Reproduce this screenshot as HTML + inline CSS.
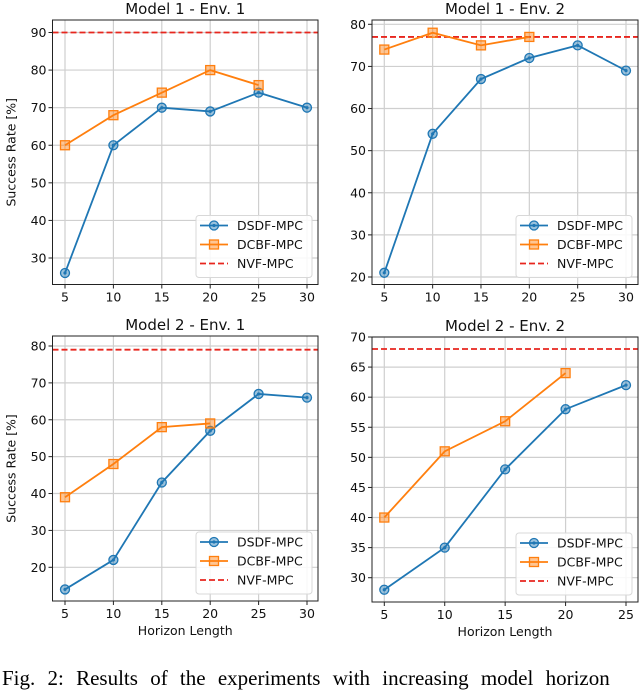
<!DOCTYPE html>
<html><head><meta charset="utf-8"><style>
body{margin:0;background:#fff;width:640px;height:676px;overflow:hidden;position:relative;font-family:"DejaVu Sans","Liberation Sans",sans-serif}
svg{position:absolute;left:0;top:0}
.cap{position:absolute;left:2px;top:666px;font-family:"Liberation Serif",serif;font-size:21px;white-space:nowrap;word-spacing:7px}
</style></head><body>
<svg id="chart" width="640" height="676" xmlns="http://www.w3.org/2000/svg"></svg>
<div class="cap">Fig. 2:  Results  of  the  experiments  with  increasing  model  horizon</div>
<script>
const titles = ["Model 1 - Env. 1","Model 1 - Env. 2","Model 2 - Env. 1","Model 2 - Env. 2"];
const xCats1 = [5,10,15,20,25,30];
const xCats2 = [5,10,15,20,25];
const dsdf1 = [26,60,70,69,74,70];
const dcbf1 = [60,68,74,80,76];
const nvf1 = 90;
const dsdf2 = [21,54,67,72,75,69];
const dcbf2 = [74,78,75,77];
const nvf2 = 77;
const dsdf3 = [14,22,43,57,67,66];
const dcbf3 = [39,48,58,59];
const nvf3 = 79;
const dsdf4 = [28,35,48,58,62];
const dcbf4 = [40,51,56,64];
const nvf4 = 68;
const yTicks1 = [30,40,50,60,70,80,90];
const yTicks2 = [20,30,40,50,60,70,80];
const yTicks3 = [20,30,40,50,60,70,80];
const yTicks4 = [30,35,40,45,50,55,60,65,70];

const NS="http://www.w3.org/2000/svg";
const svg=document.getElementById('chart');
function mk(tag,attrs,parent){const e=document.createElementNS(NS,tag);for(const k in attrs)e.setAttribute(k,attrs[k]);(parent||svg).appendChild(e);return e;}

const panels=[
 {t:titles[0],box:[52.5,20,318,284.5],xc:xCats1,xr:[5,65,30,307],yr:[90,32.5,30,258],ds:dsdf1,dc:dcbf1,nv:nvf1,yt:yTicks1,ylab:true,xlab:false},
 {t:titles[1],box:[372,20,638,284.5],xc:xCats1,xr:[5,384.3,30,626],yr:[80,24.3,20,277],ds:dsdf2,dc:dcbf2,nv:nvf2,yt:yTicks2,ylab:false,xlab:false},
 {t:titles[2],box:[52.5,336,318,601],xc:xCats1,xr:[5,65,30,307],yr:[80,346,20,567.3],ds:dsdf3,dc:dcbf3,nv:nvf3,yt:yTicks3,ylab:true,xlab:true},
 {t:titles[3],box:[372,337,638,602],xc:xCats2,xr:[5,384.3,25,626],yr:[70,337,30,577.7],ds:dsdf4,dc:dcbf4,nv:nvf4,yt:yTicks4,ylab:false,xlab:true}
];
const BLUE="#1f77b4",ORANGE="#ff7f0e",RED="#e8261e";
function circ(g,x,y){
 mk('circle',{cx:x,cy:y,r:4.5,fill:'rgba(31,119,180,0.45)',stroke:BLUE,'stroke-width':1.3},g);
 mk('circle',{cx:x,cy:y,r:1.6,fill:BLUE},g);
}
panels.forEach((p,i)=>{
 const [L,T,R,B]=p.box;
 const sx=v=>p.xr[1]+(v-p.xr[0])*(p.xr[3]-p.xr[1])/(p.xr[2]-p.xr[0]);
 const sy=v=>p.yr[1]+(v-p.yr[0])*(p.yr[3]-p.yr[1])/(p.yr[2]-p.yr[0]);
 const g=mk('g',{});
 
 
 const tt=mk('text',{x:(L+R)/2,y:T-6,'text-anchor':'middle','font-size':15,fill:'#111'},g);tt.textContent=p.t;
 
 
 p.xc.forEach(v=>{
  const x=sx(v);
  mk('line',{x1:x,x2:x,y1:T,y2:B,stroke:'#cfcfcf','stroke-width':1.2},g);
  mk('line',{x1:x,x2:x,y1:B,y2:B+4,stroke:'#222','stroke-width':1},g);
  const tx=mk('text',{x:x,y:B+17,'text-anchor':'middle','font-size':12.5,fill:'#111'},g);tx.textContent=v;
  
  
 });
 p.yt.forEach(v=>{
  const y=sy(v);
  mk('line',{x1:L,x2:R,y1:y,y2:y,stroke:'#cfcfcf','stroke-width':1.2},g);
  mk('line',{x1:L-4,x2:L,y1:y,y2:y,stroke:'#222','stroke-width':1},g);
  const ty=mk('text',{x:L-6,y:y+4.5,'text-anchor':'end','font-size':12.5,fill:'#111'},g);ty.textContent=v;
  
  
 });
 const nl=mk('line',{x1:L,x2:R,y1:sy(p.nv),y2:sy(p.nv),stroke:RED,'stroke-width':1.8,'stroke-dasharray':'6,3'},g);
 
 
 const dp=mk('polyline',{points:p.ds.map((v,j)=>sx(p.xc[j])+','+sy(v)).join(' '),fill:'none',stroke:BLUE,'stroke-width':1.8},g);
 
 
 const cp=mk('polyline',{points:p.dc.map((v,j)=>sx(p.xc[j])+','+sy(v)).join(' '),fill:'none',stroke:ORANGE,'stroke-width':1.8},g);
 
 
 p.ds.forEach((v,j)=>{circ(g,sx(p.xc[j]),sy(v));});
 p.dc.forEach((v,j)=>{
  const s=mk('rect',{x:sx(p.xc[j])-4.5,y:sy(v)-4.5,width:9,height:9,fill:'rgba(255,127,14,0.45)',stroke:ORANGE,'stroke-width':1.3},g);
  
  
 });
 mk('rect',{x:L,y:T,width:R-L,height:B-T,fill:'none',stroke:'#222','stroke-width':1},g);
 const lx=R-122,ly=B-69;
 const lg=mk('g',{},g);
 
 
 mk('rect',{x:lx,y:ly,width:116,height:62,rx:3,fill:'rgba(255,255,255,0.85)',stroke:'#d8d8d8'},lg);
 const ent=[['DSDF-MPC',BLUE,'c'],['DCBF-MPC',ORANGE,'s'],['NVF-MPC',RED,'d']];
 ent.forEach((e,k)=>{
  const y=ly+10+k*19;
  mk('line',{x1:lx+4,x2:lx+32,y1:y,y2:y,stroke:e[1],'stroke-width':1.8,'stroke-dasharray':e[2]=='d'?'6,3':'none'},lg);
  if(e[2]=='c')circ(lg,lx+18,y);
  if(e[2]=='s')mk('rect',{x:lx+13.5,y:y-4.5,width:9,height:9,fill:'rgba(255,127,14,0.45)',stroke:ORANGE,'stroke-width':1.3},lg);
  const t=mk('text',{x:lx+41,y:y+4.5,'font-size':12.5,fill:'#111'},lg);t.textContent=e[0];
  
  
 });
 if(p.ylab){
  const yl=mk('text',{x:0,y:0,transform:`translate(${L-37},${(T+B)/2}) rotate(-90)`,'text-anchor':'middle','font-size':12.5,fill:'#111'},g);yl.textContent='Success Rate [%]';
  
  
 }
 if(p.xlab){
  const xl=mk('text',{x:(L+R)/2,y:B+34,'text-anchor':'middle','font-size':12.5,fill:'#111'},g);xl.textContent='Horizon Length';
  
  
 }
});
</script>
</body></html>
